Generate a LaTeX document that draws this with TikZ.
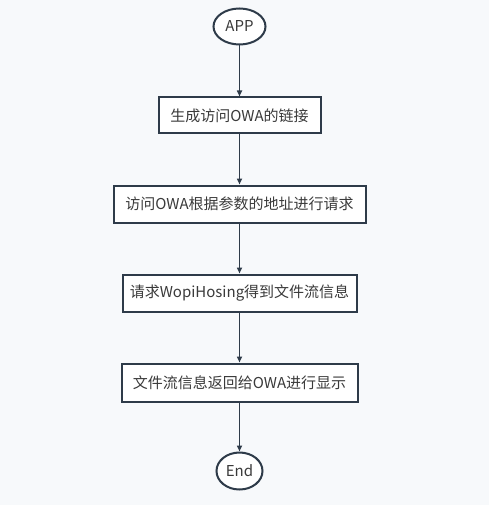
\documentclass[tikz,border=0pt]{standalone}
\usepackage{fontspec}
\setmainfont{Noto Sans CJK SC}
\usetikzlibrary{shapes.geometric,arrows.meta}
\definecolor{bgc}{HTML}{F7F9FB}
\definecolor{linec}{HTML}{2E3B49}
\definecolor{textc}{HTML}{3A3A3A}
\begin{document}
\begin{tikzpicture}[x=1pt,y=-1pt,
  stepbox/.style={draw=linec,line width=2pt,fill=white,rectangle,inner sep=0pt,text=textc,font=\fontsize{15}{18}\selectfont},
  term/.style={draw=linec,line width=2pt,fill=white,ellipse,inner sep=0pt,text=textc,font=\fontsize{15}{18}\selectfont},
  conn/.style={draw=linec,line width=1.6pt,-{Triangle[length=6pt,width=5pt]}}]
\fill[bgc] (0,0) rectangle (489,505);
\useasboundingbox (0,0) rectangle (489,505);
\node[term,minimum width=52pt,minimum height=36pt] (app) at (239.5,26.5) {APP};
\node[stepbox,minimum width=162pt,minimum height=36pt] (b1) at (239.5,115.5) {生成访问OWA的链接};
\node[stepbox,minimum width=252pt,minimum height=37pt] (b2) at (239.5,204) {访问OWA根据参数的地址进行请求};
\node[stepbox,minimum width=234pt,minimum height=37pt] (b3) at (239.5,293) {请求WopiHosing得到文件流信息};
\node[stepbox,minimum width=236pt,minimum height=38pt] (b4) at (239.5,382.5) {文件流信息返回给OWA进行显示};
\node[term,minimum width=46pt,minimum height=37pt] (end) at (239.5,471) {End};
\draw[conn] (app) -- (b1);
\draw[conn] (b1) -- (b2);
\draw[conn] (b2) -- (b3);
\draw[conn] (b3) -- (b4);
\draw[conn] (b4) -- (end);
\end{tikzpicture}
\end{document}
